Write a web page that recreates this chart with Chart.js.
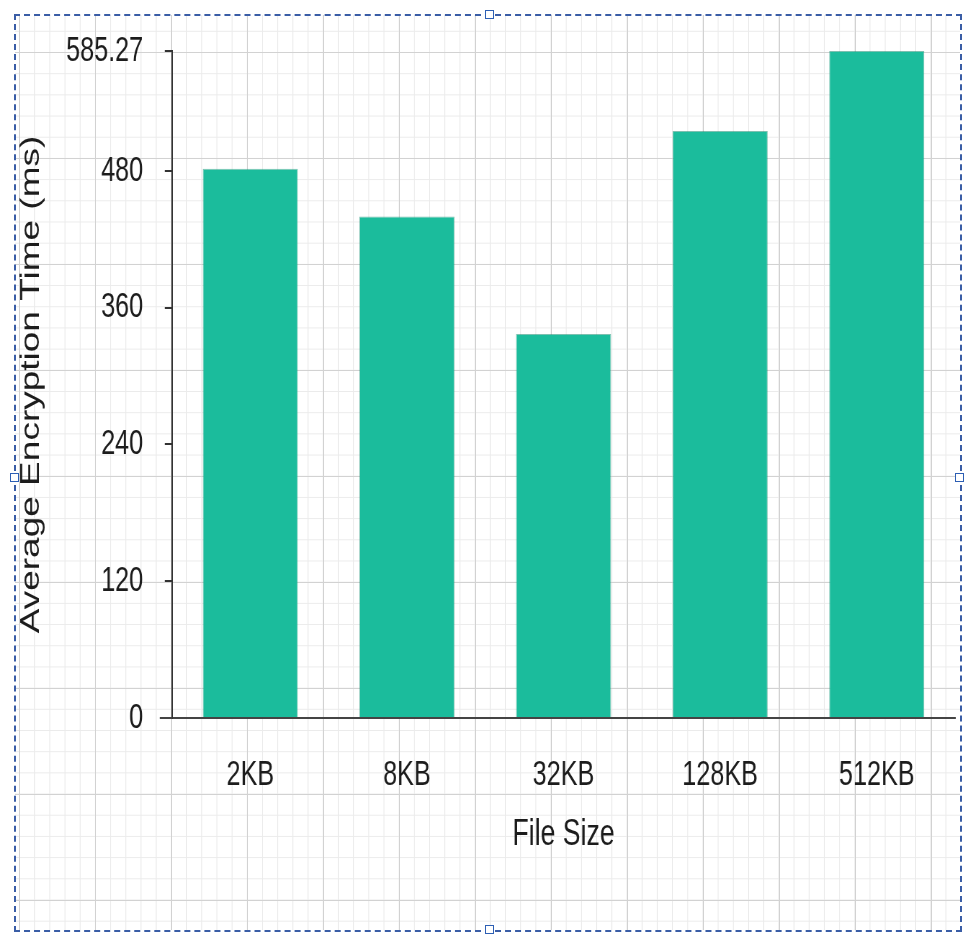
<!DOCTYPE html>
<html>
<head>
<meta charset="utf-8">
<title>Average Encryption Time by File Size</title>
<script src="https://cdn.jsdelivr.net/npm/chart.js@4/dist/chart.umd.min.js"></script>
<style>
  html, body { margin: 0; padding: 0; width: 968px; height: 935px; overflow: hidden; background: #fff; }
  /* drawing-sheet grid behind the chart */
  #sheet {
    position: absolute; left: 15px; top: 15px; width: 945px; height: 915px;
    background-color: #fff;
    background-image:
      linear-gradient(to right, #d2d2d2 1px, transparent 1px),
      linear-gradient(to bottom, #d2d2d2 1px, transparent 1px),
      linear-gradient(to right, #ebebeb 1px, transparent 1px),
      linear-gradient(to bottom, #ebebeb 1px, transparent 1px);
    background-size: 76px 100%, 100% 106px, 15.2px 100%, 100% 21.2px;
    background-position: 4px 0, 0 37px, 4px 0, 0 37px;
  }
  #frame {
    position: absolute; left: 14px; top: 14px; width: 944px; height: 914px;
    border: 2px dashed #3a5da6;
  }
  .handle {
    position: absolute; width: 7px; height: 7px; margin: -5px 0 0 -5px;
    border: 1.5px solid #2d5fb4; background: #fff;
  }
  /* the chart is laid out wide and compressed horizontally */
  #wrap {
    position: absolute; left: 0; top: 0; width: 1344px; height: 935px;
    transform: scaleX(0.72024); transform-origin: 0 0;
  }
</style>
</head>
<body>
<div id="sheet"></div>
<div id="frame"></div>
<div class="handle" style="left:490px;top:15px"></div>
<div class="handle" style="left:15px;top:478px"></div>
<div class="handle" style="left:960px;top:478px"></div>
<div class="handle" style="left:490px;top:930px"></div>
<div id="wrap"><canvas id="chart" width="1344" height="935"></canvas></div>
<script>
// File sizes and measured average encryption times (ms)
const categories = ['2KB', '8KB', '32KB', '128KB', '512KB'];
const encryptionTimes = [482, 440, 337, 515, 585.27];
const yTickValues = [0, 120, 240, 360, 480, 585.27];
const yMax = 585.27;

const textColor = '#1c1c1c';
const fontFamily = '"Liberation Sans", Arial, sans-serif';

// short extension of the x axis line to the left of the y axis
const axisStub = {
  id: 'axisStub',
  afterDraw(chart) {
    const { ctx, chartArea, scales } = chart;
    const y = scales.y.getPixelForValue(0);
    ctx.save();
    ctx.strokeStyle = '#444';
    ctx.lineWidth = 2;
    ctx.beginPath();
    ctx.moveTo(chartArea.left - 17, y);
    ctx.lineTo(chartArea.left, y);
    ctx.stroke();
    ctx.restore();
  }
};

new Chart(document.getElementById('chart'), {
  type: 'bar',
  data: {
    labels: categories,
    datasets: [{
      label: 'Average Encryption Time (ms)',
      data: encryptionTimes,
      backgroundColor: '#1bbc9c',
      borderColor: 'rgba(18,140,112,0.55)',
      borderWidth: 1,
      barPercentage: 0.607,
      categoryPercentage: 1.0
    }]
  },
  options: {
    responsive: false,
    animation: false,
    devicePixelRatio: 1,
    layout: { padding: { left: 0, right: 18, top: 50, bottom: 0 } },
    plugins: {
      legend: { display: false },
      tooltip: { enabled: false }
    },
    scales: {
      x: {
        grid: { display: false },
        border: { display: true, color: '#444', width: 2 },
        ticks: {
          color: textColor,
          padding: 28,
          maxRotation: 0,
          font: { family: fontFamily, size: 35 }
        },
        title: {
          display: true,
          text: 'File Size',
          color: textColor,
          padding: { top: 0, bottom: 78 },
          font: { family: fontFamily, size: 37 }
        },
        afterFit(scale) { scale.height = 217; }
      },
      y: {
        min: 0,
        max: yMax,
        grid: {
          display: true,
          drawOnChartArea: false,
          drawTicks: true,
          tickLength: 10,
          color: '#333',
          lineWidth: 2
        },
        border: { display: true, color: '#333', width: 2 },
        afterBuildTicks(scale) {
          scale.ticks = yTickValues.map(v => ({ value: v }));
        },
        ticks: {
          autoSkip: false,
          color: textColor,
          padding: 30,
          font: { family: fontFamily, size: 35 },
          callback: v => String(v)
        },
        title: {
          display: true,
          text: 'Average Encryption Time (ms)',
          color: textColor,
          padding: { top: 22, bottom: 0 },
          font: { family: fontFamily, size: 37 }
        },
        afterFit(scale) { scale.width = 238.8; }
      }
    }
  },
  plugins: [axisStub]
});
</script>
</body>
</html>
